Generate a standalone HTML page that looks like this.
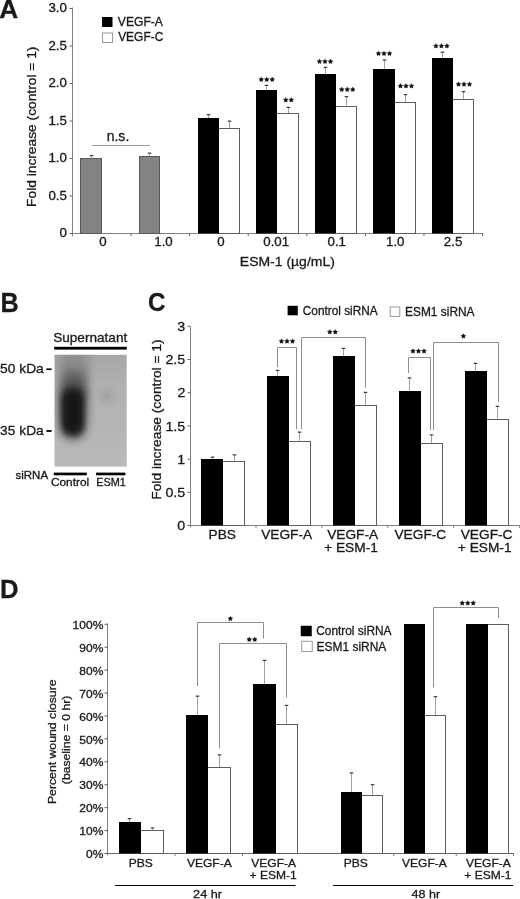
<!DOCTYPE html>
<html><head><meta charset="utf-8"><style>
html,body{margin:0;padding:0;background:#fff;overflow:hidden;}
svg{display:block;will-change:transform;}
text{font-family:"Liberation Sans", sans-serif;fill:#1a1a1a;stroke:#1a1a1a;stroke-width:0.3px;}
</style></head><body>
<svg width="520" height="899" viewBox="0 0 520 899">
<text transform="translate(-0.66,17.60) scale(1.025,1)" font-size="25.58" font-weight="bold">A</text>
<line x1="72.5" y1="7.5" x2="72.5" y2="235.5" stroke="#808080" stroke-width="1"/>
<line x1="72.5" y1="233.5" x2="483.4" y2="233.5" stroke="#808080" stroke-width="1"/>
<line x1="69.5" y1="233.5" x2="72.5" y2="233.5" stroke="#666" stroke-width="1"/>
<text transform="translate(59.53,237.34) scale(1.120,1)" font-size="11.86">0</text>
<line x1="69.5" y1="196.0" x2="72.5" y2="196.0" stroke="#666" stroke-width="1"/>
<text transform="translate(48.48,199.84) scale(1.120,1)" font-size="11.86">0.5</text>
<line x1="69.5" y1="158.5" x2="72.5" y2="158.5" stroke="#666" stroke-width="1"/>
<text transform="translate(48.44,162.34) scale(1.120,1)" font-size="11.86">1.0</text>
<line x1="69.5" y1="121.0" x2="72.5" y2="121.0" stroke="#666" stroke-width="1"/>
<text transform="translate(48.48,124.84) scale(1.120,1)" font-size="11.86">1.5</text>
<line x1="69.5" y1="83.5" x2="72.5" y2="83.5" stroke="#666" stroke-width="1"/>
<text transform="translate(48.44,87.34) scale(1.120,1)" font-size="11.86">2.0</text>
<line x1="69.5" y1="46.0" x2="72.5" y2="46.0" stroke="#666" stroke-width="1"/>
<text transform="translate(48.48,49.84) scale(1.120,1)" font-size="11.86">2.5</text>
<line x1="69.5" y1="8.5" x2="72.5" y2="8.5" stroke="#666" stroke-width="1"/>
<text transform="translate(48.44,12.34) scale(1.120,1)" font-size="11.86">3.0</text>
<line x1="131.05" y1="233.5" x2="131.05" y2="236.0" stroke="#666" stroke-width="1"/>
<line x1="189.63" y1="233.5" x2="189.63" y2="236.0" stroke="#666" stroke-width="1"/>
<line x1="248.21" y1="233.5" x2="248.21" y2="236.0" stroke="#666" stroke-width="1"/>
<line x1="306.79" y1="233.5" x2="306.79" y2="236.0" stroke="#666" stroke-width="1"/>
<line x1="365.37" y1="233.5" x2="365.37" y2="236.0" stroke="#666" stroke-width="1"/>
<line x1="423.95" y1="233.5" x2="423.95" y2="236.0" stroke="#666" stroke-width="1"/>
<line x1="482.53000000000003" y1="233.5" x2="482.53000000000003" y2="236.0" stroke="#666" stroke-width="1"/>
<line x1="72.45" y1="233.5" x2="72.45" y2="236.5" stroke="#808080" stroke-width="1"/>
<text transform="translate(99.30,246.34) scale(1.070,1)" font-size="12.43">0</text>
<text transform="translate(154.26,246.34) scale(1.070,1)" font-size="12.43">1.0</text>
<text transform="translate(217.20,246.34) scale(1.070,1)" font-size="12.43">0</text>
<text transform="translate(263.28,246.34) scale(1.070,1)" font-size="12.43">0.01</text>
<text transform="translate(327.53,246.34) scale(1.070,1)" font-size="12.43">0.1</text>
<text transform="translate(386.01,246.34) scale(1.070,1)" font-size="12.43">1.0</text>
<text transform="translate(443.81,246.34) scale(1.070,1)" font-size="12.43">2.5</text>
<text transform="translate(239.85,265.72) scale(1.087,1)" font-size="12.86">ESM-1 (µg/mL)</text>
<rect x="80.5" y="158.5" width="21.0" height="75.0" fill="#838383" stroke="#585858" stroke-width="1"/>
<line x1="91.5" y1="155.65" x2="91.5" y2="158.25" stroke="#a0a0a0" stroke-width="1"/>
<line x1="89.7" y1="155.65" x2="93.3" y2="155.65" stroke="#3a3a3a" stroke-width="1.2"/>
<rect x="139.5" y="156.5" width="20.0" height="77.0" fill="#838383" stroke="#585858" stroke-width="1"/>
<line x1="149.5" y1="153.15" x2="149.5" y2="155.75" stroke="#a0a0a0" stroke-width="1"/>
<line x1="147.7" y1="153.15" x2="151.3" y2="153.15" stroke="#3a3a3a" stroke-width="1.2"/>
<line x1="208.5" y1="114.65" x2="208.5" y2="118.25" stroke="#a0a0a0" stroke-width="1"/>
<line x1="206.7" y1="114.65" x2="210.3" y2="114.65" stroke="#3a3a3a" stroke-width="1.2"/>
<line x1="229.5" y1="121.15" x2="229.5" y2="128.25" stroke="#a0a0a0" stroke-width="1"/>
<line x1="227.7" y1="121.15" x2="231.3" y2="121.15" stroke="#3a3a3a" stroke-width="1.2"/>
<rect x="218.5" y="128.5" width="21.0" height="105.0" fill="#fff" stroke="#5e5e5e" stroke-width="1"/>
<rect x="198.0" y="118.0" width="21.0" height="115.5" fill="#000"/>
<line x1="266.5" y1="85.4" x2="266.5" y2="90" stroke="#a0a0a0" stroke-width="1"/>
<line x1="264.7" y1="85.4" x2="268.3" y2="85.4" stroke="#3a3a3a" stroke-width="1.2"/>
<line x1="288.5" y1="107.4" x2="288.5" y2="113.25" stroke="#a0a0a0" stroke-width="1"/>
<line x1="286.7" y1="107.4" x2="290.3" y2="107.4" stroke="#3a3a3a" stroke-width="1.2"/>
<rect x="276.5" y="113.5" width="22.0" height="120.0" fill="#fff" stroke="#5e5e5e" stroke-width="1"/>
<rect x="256.0" y="90.0" width="21.0" height="143.5" fill="#000"/>
<line x1="325.5" y1="67.4" x2="325.5" y2="73.75" stroke="#a0a0a0" stroke-width="1"/>
<line x1="323.7" y1="67.4" x2="327.3" y2="67.4" stroke="#3a3a3a" stroke-width="1.2"/>
<line x1="346.5" y1="96.65" x2="346.5" y2="105.5" stroke="#a0a0a0" stroke-width="1"/>
<line x1="344.7" y1="96.65" x2="348.3" y2="96.65" stroke="#3a3a3a" stroke-width="1.2"/>
<rect x="335.5" y="106.5" width="21.0" height="127.0" fill="#fff" stroke="#5e5e5e" stroke-width="1"/>
<rect x="315.0" y="74.0" width="21.0" height="159.5" fill="#000"/>
<line x1="384.5" y1="59.9" x2="384.5" y2="69" stroke="#a0a0a0" stroke-width="1"/>
<line x1="382.7" y1="59.9" x2="386.3" y2="59.9" stroke="#3a3a3a" stroke-width="1.2"/>
<line x1="405.5" y1="94.65" x2="405.5" y2="102.5" stroke="#a0a0a0" stroke-width="1"/>
<line x1="403.7" y1="94.65" x2="407.3" y2="94.65" stroke="#3a3a3a" stroke-width="1.2"/>
<rect x="394.5" y="102.5" width="21.0" height="131.0" fill="#fff" stroke="#5e5e5e" stroke-width="1"/>
<rect x="373.0" y="69.0" width="22.0" height="164.5" fill="#000"/>
<line x1="442.5" y1="52.15" x2="442.5" y2="58" stroke="#a0a0a0" stroke-width="1"/>
<line x1="440.7" y1="52.15" x2="444.3" y2="52.15" stroke="#3a3a3a" stroke-width="1.2"/>
<line x1="463.5" y1="91.65" x2="463.5" y2="99.25" stroke="#a0a0a0" stroke-width="1"/>
<line x1="461.7" y1="91.65" x2="465.3" y2="91.65" stroke="#3a3a3a" stroke-width="1.2"/>
<rect x="452.5" y="99.5" width="21.0" height="134.0" fill="#fff" stroke="#5e5e5e" stroke-width="1"/>
<rect x="432.0" y="58.0" width="21.0" height="175.5" fill="#000"/>
<line x1="92" y1="145.5" x2="150" y2="145.5" stroke="#9a9a9a" stroke-width="1"/>
<text transform="translate(106.67,141.35) scale(0.926,1)" font-size="15.15">n.s.</text>
<polygon points="261.25,77.00 262.06,78.39 263.63,78.73 262.56,79.92 262.72,81.52 261.25,80.88 259.78,81.52 259.94,79.92 258.87,78.73 260.44,78.39" fill="#111" stroke="#111" stroke-width="0.35" stroke-linejoin="round"/>
<polygon points="266.75,77.00 267.56,78.39 269.13,78.73 268.06,79.92 268.22,81.52 266.75,80.88 265.28,81.52 265.44,79.92 264.37,78.73 265.94,78.39" fill="#111" stroke="#111" stroke-width="0.35" stroke-linejoin="round"/>
<polygon points="272.25,77.00 273.06,78.39 274.63,78.73 273.56,79.92 273.72,81.52 272.25,80.88 270.78,81.52 270.94,79.92 269.87,78.73 271.44,78.39" fill="#111" stroke="#111" stroke-width="0.35" stroke-linejoin="round"/>
<polygon points="285.75,97.50 286.56,98.89 288.13,99.23 287.06,100.42 287.22,102.02 285.75,101.38 284.28,102.02 284.44,100.42 283.37,99.23 284.94,98.89" fill="#111" stroke="#111" stroke-width="0.35" stroke-linejoin="round"/>
<polygon points="291.25,97.50 292.06,98.89 293.63,99.23 292.56,100.42 292.72,102.02 291.25,101.38 289.78,102.02 289.94,100.42 288.87,99.23 290.44,98.89" fill="#111" stroke="#111" stroke-width="0.35" stroke-linejoin="round"/>
<polygon points="319.50,59.00 320.31,60.39 321.88,60.73 320.81,61.92 320.97,63.52 319.50,62.88 318.03,63.52 318.19,61.92 317.12,60.73 318.69,60.39" fill="#111" stroke="#111" stroke-width="0.35" stroke-linejoin="round"/>
<polygon points="325.00,59.00 325.81,60.39 327.38,60.73 326.31,61.92 326.47,63.52 325.00,62.88 323.53,63.52 323.69,61.92 322.62,60.73 324.19,60.39" fill="#111" stroke="#111" stroke-width="0.35" stroke-linejoin="round"/>
<polygon points="330.50,59.00 331.31,60.39 332.88,60.73 331.81,61.92 331.97,63.52 330.50,62.88 329.03,63.52 329.19,61.92 328.12,60.73 329.69,60.39" fill="#111" stroke="#111" stroke-width="0.35" stroke-linejoin="round"/>
<polygon points="341.75,87.00 342.56,88.39 344.13,88.73 343.06,89.92 343.22,91.52 341.75,90.88 340.28,91.52 340.44,89.92 339.37,88.73 340.94,88.39" fill="#111" stroke="#111" stroke-width="0.35" stroke-linejoin="round"/>
<polygon points="347.25,87.00 348.06,88.39 349.63,88.73 348.56,89.92 348.72,91.52 347.25,90.88 345.78,91.52 345.94,89.92 344.87,88.73 346.44,88.39" fill="#111" stroke="#111" stroke-width="0.35" stroke-linejoin="round"/>
<polygon points="352.75,87.00 353.56,88.39 355.13,88.73 354.06,89.92 354.22,91.52 352.75,90.88 351.28,91.52 351.44,89.92 350.37,88.73 351.94,88.39" fill="#111" stroke="#111" stroke-width="0.35" stroke-linejoin="round"/>
<polygon points="378.50,51.00 379.31,52.39 380.88,52.73 379.81,53.92 379.97,55.52 378.50,54.88 377.03,55.52 377.19,53.92 376.12,52.73 377.69,52.39" fill="#111" stroke="#111" stroke-width="0.35" stroke-linejoin="round"/>
<polygon points="384.00,51.00 384.81,52.39 386.38,52.73 385.31,53.92 385.47,55.52 384.00,54.88 382.53,55.52 382.69,53.92 381.62,52.73 383.19,52.39" fill="#111" stroke="#111" stroke-width="0.35" stroke-linejoin="round"/>
<polygon points="389.50,51.00 390.31,52.39 391.88,52.73 390.81,53.92 390.97,55.52 389.50,54.88 388.03,55.52 388.19,53.92 387.12,52.73 388.69,52.39" fill="#111" stroke="#111" stroke-width="0.35" stroke-linejoin="round"/>
<polygon points="400.50,83.50 401.31,84.89 402.88,85.23 401.81,86.42 401.97,88.02 400.50,87.38 399.03,88.02 399.19,86.42 398.12,85.23 399.69,84.89" fill="#111" stroke="#111" stroke-width="0.35" stroke-linejoin="round"/>
<polygon points="406.00,83.50 406.81,84.89 408.38,85.23 407.31,86.42 407.47,88.02 406.00,87.38 404.53,88.02 404.69,86.42 403.62,85.23 405.19,84.89" fill="#111" stroke="#111" stroke-width="0.35" stroke-linejoin="round"/>
<polygon points="411.50,83.50 412.31,84.89 413.88,85.23 412.81,86.42 412.97,88.02 411.50,87.38 410.03,88.02 410.19,86.42 409.12,85.23 410.69,84.89" fill="#111" stroke="#111" stroke-width="0.35" stroke-linejoin="round"/>
<polygon points="435.90,43.50 436.71,44.89 438.28,45.23 437.21,46.42 437.37,48.02 435.90,47.38 434.43,48.02 434.59,46.42 433.52,45.23 435.09,44.89" fill="#111" stroke="#111" stroke-width="0.35" stroke-linejoin="round"/>
<polygon points="441.40,43.50 442.21,44.89 443.78,45.23 442.71,46.42 442.87,48.02 441.40,47.38 439.93,48.02 440.09,46.42 439.02,45.23 440.59,44.89" fill="#111" stroke="#111" stroke-width="0.35" stroke-linejoin="round"/>
<polygon points="446.90,43.50 447.71,44.89 449.28,45.23 448.21,46.42 448.37,48.02 446.90,47.38 445.43,48.02 445.59,46.42 444.52,45.23 446.09,44.89" fill="#111" stroke="#111" stroke-width="0.35" stroke-linejoin="round"/>
<polygon points="458.50,81.80 459.31,83.19 460.88,83.53 459.81,84.72 459.97,86.32 458.50,85.67 457.03,86.32 457.19,84.72 456.12,83.53 457.69,83.19" fill="#111" stroke="#111" stroke-width="0.35" stroke-linejoin="round"/>
<polygon points="464.00,81.80 464.81,83.19 466.38,83.53 465.31,84.72 465.47,86.32 464.00,85.67 462.53,86.32 462.69,84.72 461.62,83.53 463.19,83.19" fill="#111" stroke="#111" stroke-width="0.35" stroke-linejoin="round"/>
<polygon points="469.50,81.80 470.31,83.19 471.88,83.53 470.81,84.72 470.97,86.32 469.50,85.67 468.03,86.32 468.19,84.72 467.12,83.53 468.69,83.19" fill="#111" stroke="#111" stroke-width="0.35" stroke-linejoin="round"/>
<rect x="102" y="17" width="10.5" height="10" fill="#000"/>
<rect x="102.5" y="33" width="10" height="9.5" fill="#fff" stroke="#999" stroke-width="1"/>
<text transform="translate(117.84,26.38) scale(1.021,1)" font-size="11.86">VEGF-A</text>
<text transform="translate(118.14,41.48) scale(0.974,1)" font-size="12.29">VEGF-C</text>
<text transform="translate(35.98,206.93) rotate(-90) scale(1.089,1)" font-size="12.66">Fold increase (control = 1)</text>
<text transform="translate(0.51,311.70) scale(0.939,1)" font-size="26.89" font-weight="bold">B</text>
<text transform="translate(53.17,342.26) scale(1.072,1)" font-size="12.69">Supernatant</text>
<rect x="54.2" y="346.8" width="72.6" height="2.8" fill="#000"/>
<defs>
<filter id="b3" x="-50%" y="-50%" width="200%" height="200%"><feGaussianBlur stdDeviation="3"/></filter>
<filter id="b5" x="-50%" y="-50%" width="200%" height="200%"><feGaussianBlur stdDeviation="5"/></filter>
<filter id="b2" x="-50%" y="-50%" width="200%" height="200%"><feGaussianBlur stdDeviation="2"/></filter>
<linearGradient id="blotbg" x1="0" y1="0" x2="0" y2="1">
<stop offset="0" stop-color="#a6a6a6"/>
<stop offset="0.25" stop-color="#b0b0b0"/>
<stop offset="1" stop-color="#b9b9b9"/>
</linearGradient>
<linearGradient id="lane" x1="0" y1="0" x2="0" y2="1">
<stop offset="0" stop-color="#8c8c8c"/>
<stop offset="0.3" stop-color="#6a6a6a"/>
<stop offset="0.6" stop-color="#777"/>
<stop offset="1" stop-color="#a8a8a8"/>
</linearGradient>
<clipPath id="blotclip"><rect x="54.5" y="354.8" width="72.2" height="111.8"/></clipPath>
</defs>
<rect x="54.5" y="354.8" width="72.2" height="111.8" fill="url(#blotbg)"/>
<g clip-path="url(#blotclip)">
<rect x="60" y="350" width="28" height="70" fill="url(#lane)" opacity="0.6" filter="url(#b5)"/>
<rect x="62" y="372" width="23" height="24" rx="6" fill="#555" opacity="0.8" filter="url(#b5)"/>
<rect x="61" y="386" width="24" height="52" rx="10" fill="#222" filter="url(#b5)"/>
<rect x="63" y="392" width="19" height="40" rx="8" fill="#181818" filter="url(#b3)"/>
<ellipse cx="107" cy="396" rx="7" ry="6" fill="#9a9a9a" opacity="0.7" filter="url(#b3)"/>
</g>
<text transform="translate(0.05,372.77) scale(1.103,1)" font-size="12.52">50 kDa</text>
<rect x="46.4" y="368.4" width="5.2" height="1.7" fill="#000"/>
<text transform="translate(0.08,434.67) scale(1.079,1)" font-size="12.79">35 kDa</text>
<rect x="46.4" y="430.1" width="5.2" height="1.8" fill="#000"/>
<text transform="translate(15.48,479.20) scale(1.144,1)" font-size="10.07">siRNA</text>
<rect x="53.8" y="472.6" width="33" height="2.7" fill="#000"/>
<rect x="96.1" y="472.6" width="29.3" height="2.7" fill="#000"/>
<text transform="translate(50.89,486.09) scale(1.123,1)" font-size="10.61">Control</text>
<text transform="translate(96.31,486.10) scale(1.041,1)" font-size="10.45">ESM1</text>
<text transform="translate(148.11,311.34) scale(0.920,1)" font-size="26.27" font-weight="bold">C</text>
<line x1="190.5" y1="326.5" x2="190.5" y2="527.5" stroke="#808080" stroke-width="1"/>
<line x1="190.5" y1="525.5" x2="520" y2="525.5" stroke="#808080" stroke-width="1"/>
<line x1="187.5" y1="525.5" x2="190.5" y2="525.5" stroke="#666" stroke-width="1"/>
<text transform="translate(177.23,530.18) scale(1.085,1)" font-size="13.14">0</text>
<line x1="187.5" y1="492.3" x2="190.5" y2="492.3" stroke="#666" stroke-width="1"/>
<text transform="translate(165.39,496.98) scale(1.085,1)" font-size="13.14">0.5</text>
<line x1="187.5" y1="459.1" x2="190.5" y2="459.1" stroke="#666" stroke-width="1"/>
<text transform="translate(177.37,463.78) scale(1.085,1)" font-size="13.14">1</text>
<line x1="187.5" y1="425.9" x2="190.5" y2="425.9" stroke="#666" stroke-width="1"/>
<text transform="translate(165.39,430.58) scale(1.085,1)" font-size="13.14">1.5</text>
<line x1="187.5" y1="392.7" x2="190.5" y2="392.7" stroke="#666" stroke-width="1"/>
<text transform="translate(177.39,397.38) scale(1.085,1)" font-size="13.14">2</text>
<line x1="187.5" y1="359.5" x2="190.5" y2="359.5" stroke="#666" stroke-width="1"/>
<text transform="translate(165.39,364.18) scale(1.085,1)" font-size="13.14">2.5</text>
<line x1="187.5" y1="326.29999999999995" x2="190.5" y2="326.29999999999995" stroke="#666" stroke-width="1"/>
<text transform="translate(177.30,330.98) scale(1.085,1)" font-size="13.14">3</text>
<line x1="256.0" y1="525.5" x2="256.0" y2="528.0" stroke="#808080" stroke-width="1"/>
<line x1="321.9" y1="525.5" x2="321.9" y2="528.0" stroke="#808080" stroke-width="1"/>
<line x1="387.8" y1="525.5" x2="387.8" y2="528.0" stroke="#808080" stroke-width="1"/>
<line x1="453.70000000000005" y1="525.5" x2="453.70000000000005" y2="528.0" stroke="#808080" stroke-width="1"/>
<line x1="519.6" y1="525.5" x2="519.6" y2="528.0" stroke="#808080" stroke-width="1"/>
<line x1="212.5" y1="457.15" x2="212.5" y2="459.25" stroke="#a0a0a0" stroke-width="1"/>
<line x1="210.7" y1="457.15" x2="214.3" y2="457.15" stroke="#3a3a3a" stroke-width="1.2"/>
<line x1="234.5" y1="454.9" x2="234.5" y2="461.25" stroke="#a0a0a0" stroke-width="1"/>
<line x1="232.7" y1="454.9" x2="236.3" y2="454.9" stroke="#3a3a3a" stroke-width="1.2"/>
<rect x="222.5" y="461.5" width="22.0" height="64.0" fill="#fff" stroke="#5e5e5e" stroke-width="1"/>
<rect x="201.0" y="459.0" width="22.0" height="66.5" fill="#000"/>
<line x1="277.5" y1="370.4" x2="277.5" y2="376.25" stroke="#a0a0a0" stroke-width="1"/>
<line x1="275.7" y1="370.4" x2="279.3" y2="370.4" stroke="#3a3a3a" stroke-width="1.2"/>
<line x1="299.5" y1="432.15" x2="299.5" y2="440.75" stroke="#a0a0a0" stroke-width="1"/>
<line x1="297.7" y1="432.15" x2="301.3" y2="432.15" stroke="#3a3a3a" stroke-width="1.2"/>
<rect x="288.5" y="441.5" width="22.0" height="84.0" fill="#fff" stroke="#5e5e5e" stroke-width="1"/>
<rect x="267.0" y="376.0" width="22.0" height="149.5" fill="#000"/>
<line x1="343.5" y1="348.4" x2="343.5" y2="355.75" stroke="#a0a0a0" stroke-width="1"/>
<line x1="341.7" y1="348.4" x2="345.3" y2="348.4" stroke="#3a3a3a" stroke-width="1.2"/>
<line x1="365.5" y1="392.4" x2="365.5" y2="405" stroke="#a0a0a0" stroke-width="1"/>
<line x1="363.7" y1="392.4" x2="367.3" y2="392.4" stroke="#3a3a3a" stroke-width="1.2"/>
<rect x="354.5" y="405.5" width="22.0" height="120.0" fill="#fff" stroke="#5e5e5e" stroke-width="1"/>
<rect x="333.0" y="356.0" width="22.0" height="169.5" fill="#000"/>
<line x1="409.5" y1="377.9" x2="409.5" y2="390.75" stroke="#a0a0a0" stroke-width="1"/>
<line x1="407.7" y1="377.9" x2="411.3" y2="377.9" stroke="#3a3a3a" stroke-width="1.2"/>
<line x1="431.5" y1="434.9" x2="431.5" y2="443" stroke="#a0a0a0" stroke-width="1"/>
<line x1="429.7" y1="434.9" x2="433.3" y2="434.9" stroke="#3a3a3a" stroke-width="1.2"/>
<rect x="420.5" y="443.5" width="22.0" height="82.0" fill="#fff" stroke="#5e5e5e" stroke-width="1"/>
<rect x="399.0" y="391.0" width="22.0" height="134.5" fill="#000"/>
<line x1="475.5" y1="363.4" x2="475.5" y2="371.25" stroke="#a0a0a0" stroke-width="1"/>
<line x1="473.7" y1="363.4" x2="477.3" y2="363.4" stroke="#3a3a3a" stroke-width="1.2"/>
<line x1="497.5" y1="406.4" x2="497.5" y2="418.6" stroke="#a0a0a0" stroke-width="1"/>
<line x1="495.7" y1="406.4" x2="499.3" y2="406.4" stroke="#3a3a3a" stroke-width="1.2"/>
<rect x="486.5" y="419.5" width="22.0" height="106.0" fill="#fff" stroke="#5e5e5e" stroke-width="1"/>
<rect x="465.0" y="371.0" width="22.0" height="154.5" fill="#000"/>
<text transform="translate(208.54,539.06) scale(1.073,1)" font-size="12.78">PBS</text>
<text transform="translate(261.16,539.06) scale(1.073,1)" font-size="12.78">VEGF-A</text>
<text transform="translate(327.16,539.06) scale(1.073,1)" font-size="12.78">VEGF-A</text>
<text transform="translate(394.43,539.06) scale(1.073,1)" font-size="12.78">VEGF-C</text>
<text transform="translate(460.73,539.06) scale(1.073,1)" font-size="12.78">VEGF-C</text>
<text transform="translate(324.13,551.51) scale(1.073,1)" font-size="12.78">+ ESM-1</text>
<text transform="translate(457.83,551.51) scale(1.073,1)" font-size="12.78">+ ESM-1</text>
<polyline points="277.5,367 277.5,347.5 296.5,347.5 296.5,429" fill="none" stroke="#8e8e8e" stroke-width="1"/>
<polyline points="301.5,429 301.5,337.5 365.5,337.5 365.5,388" fill="none" stroke="#8e8e8e" stroke-width="1"/>
<polyline points="408.5,373 408.5,357.5 430.5,357.5 430.5,430" fill="none" stroke="#8e8e8e" stroke-width="1"/>
<polyline points="433.5,430 433.5,342.5 498.5,342.5 498.5,402" fill="none" stroke="#8e8e8e" stroke-width="1"/>
<polygon points="281.50,338.80 282.31,340.19 283.88,340.53 282.81,341.72 282.97,343.32 281.50,342.68 280.03,343.32 280.19,341.72 279.12,340.53 280.69,340.19" fill="#111" stroke="#111" stroke-width="0.35" stroke-linejoin="round"/>
<polygon points="287.00,338.80 287.81,340.19 289.38,340.53 288.31,341.72 288.47,343.32 287.00,342.68 285.53,343.32 285.69,341.72 284.62,340.53 286.19,340.19" fill="#111" stroke="#111" stroke-width="0.35" stroke-linejoin="round"/>
<polygon points="292.50,338.80 293.31,340.19 294.88,340.53 293.81,341.72 293.97,343.32 292.50,342.68 291.03,343.32 291.19,341.72 290.12,340.53 291.69,340.19" fill="#111" stroke="#111" stroke-width="0.35" stroke-linejoin="round"/>
<polygon points="329.75,329.50 330.56,330.89 332.13,331.23 331.06,332.42 331.22,334.02 329.75,333.38 328.28,334.02 328.44,332.42 327.37,331.23 328.94,330.89" fill="#111" stroke="#111" stroke-width="0.35" stroke-linejoin="round"/>
<polygon points="335.25,329.50 336.06,330.89 337.63,331.23 336.56,332.42 336.72,334.02 335.25,333.38 333.78,334.02 333.94,332.42 332.87,331.23 334.44,330.89" fill="#111" stroke="#111" stroke-width="0.35" stroke-linejoin="round"/>
<polygon points="413.00,348.70 413.81,350.09 415.38,350.43 414.31,351.62 414.47,353.22 413.00,352.57 411.53,353.22 411.69,351.62 410.62,350.43 412.19,350.09" fill="#111" stroke="#111" stroke-width="0.35" stroke-linejoin="round"/>
<polygon points="418.50,348.70 419.31,350.09 420.88,350.43 419.81,351.62 419.97,353.22 418.50,352.57 417.03,353.22 417.19,351.62 416.12,350.43 417.69,350.09" fill="#111" stroke="#111" stroke-width="0.35" stroke-linejoin="round"/>
<polygon points="424.00,348.70 424.81,350.09 426.38,350.43 425.31,351.62 425.47,353.22 424.00,352.57 422.53,353.22 422.69,351.62 421.62,350.43 423.19,350.09" fill="#111" stroke="#111" stroke-width="0.35" stroke-linejoin="round"/>
<polygon points="463.40,333.70 464.21,335.09 465.78,335.43 464.71,336.62 464.87,338.22 463.40,337.57 461.93,338.22 462.09,336.62 461.02,335.43 462.59,335.09" fill="#111" stroke="#111" stroke-width="0.35" stroke-linejoin="round"/>
<rect x="287.6" y="305.8" width="10.2" height="9.5" fill="#000"/>
<rect x="390.2" y="307" width="9.6" height="9.4" fill="#fff" stroke="#999" stroke-width="1"/>
<text transform="translate(302.80,314.98) scale(0.988,1)" font-size="11.97">Control siRNA</text>
<text transform="translate(405.02,316.38) scale(0.996,1)" font-size="11.97">ESM1 siRNA</text>
<text transform="translate(160.91,499.73) rotate(-90) scale(1.062,1)" font-size="12.98">Fold increase (control = 1)</text>
<text transform="translate(-0.12,597.80) scale(0.968,1)" font-size="26.45" font-weight="bold">D</text>
<line x1="107.5" y1="623.5" x2="107.5" y2="855.5" stroke="#808080" stroke-width="1"/>
<line x1="107.5" y1="853.5" x2="514" y2="853.5" stroke="#666" stroke-width="1"/>
<line x1="104.5" y1="853.5" x2="107.5" y2="853.5" stroke="#5a5a5a" stroke-width="1"/>
<text transform="translate(85.99,858.10) scale(1.109,1)" font-size="10.88">0%</text>
<line x1="104.5" y1="830.58" x2="107.5" y2="830.58" stroke="#5a5a5a" stroke-width="1"/>
<text transform="translate(79.29,835.18) scale(1.109,1)" font-size="10.88">10%</text>
<line x1="104.5" y1="807.66" x2="107.5" y2="807.66" stroke="#5a5a5a" stroke-width="1"/>
<text transform="translate(79.29,812.26) scale(1.109,1)" font-size="10.88">20%</text>
<line x1="104.5" y1="784.74" x2="107.5" y2="784.74" stroke="#5a5a5a" stroke-width="1"/>
<text transform="translate(79.29,789.34) scale(1.109,1)" font-size="10.88">30%</text>
<line x1="104.5" y1="761.8199999999999" x2="107.5" y2="761.8199999999999" stroke="#5a5a5a" stroke-width="1"/>
<text transform="translate(79.29,766.42) scale(1.109,1)" font-size="10.88">40%</text>
<line x1="104.5" y1="738.9" x2="107.5" y2="738.9" stroke="#5a5a5a" stroke-width="1"/>
<text transform="translate(79.29,743.50) scale(1.109,1)" font-size="10.88">50%</text>
<line x1="104.5" y1="715.98" x2="107.5" y2="715.98" stroke="#5a5a5a" stroke-width="1"/>
<text transform="translate(79.29,720.58) scale(1.109,1)" font-size="10.88">60%</text>
<line x1="104.5" y1="693.06" x2="107.5" y2="693.06" stroke="#5a5a5a" stroke-width="1"/>
<text transform="translate(79.29,697.66) scale(1.109,1)" font-size="10.88">70%</text>
<line x1="104.5" y1="670.14" x2="107.5" y2="670.14" stroke="#5a5a5a" stroke-width="1"/>
<text transform="translate(79.29,674.74) scale(1.109,1)" font-size="10.88">80%</text>
<line x1="104.5" y1="647.22" x2="107.5" y2="647.22" stroke="#5a5a5a" stroke-width="1"/>
<text transform="translate(79.29,651.82) scale(1.109,1)" font-size="10.88">90%</text>
<line x1="104.5" y1="624.3" x2="107.5" y2="624.3" stroke="#5a5a5a" stroke-width="1"/>
<text transform="translate(72.58,628.90) scale(1.109,1)" font-size="10.88">100%</text>
<line x1="175" y1="853.5" x2="175" y2="856.0" stroke="#808080" stroke-width="1"/>
<line x1="242.5" y1="853.5" x2="242.5" y2="856.0" stroke="#808080" stroke-width="1"/>
<line x1="393.75" y1="853.5" x2="393.75" y2="856.0" stroke="#808080" stroke-width="1"/>
<line x1="456.25" y1="853.5" x2="456.25" y2="856.0" stroke="#808080" stroke-width="1"/>
<line x1="513.5" y1="853.5" x2="513.5" y2="856.0" stroke="#808080" stroke-width="1"/>
<line x1="129.5" y1="818.65" x2="129.5" y2="822.5" stroke="#a0a0a0" stroke-width="1"/>
<line x1="127.7" y1="818.65" x2="131.3" y2="818.65" stroke="#3a3a3a" stroke-width="1.2"/>
<line x1="152.5" y1="827.9" x2="152.5" y2="830.5" stroke="#a0a0a0" stroke-width="1"/>
<line x1="150.7" y1="827.9" x2="154.3" y2="827.9" stroke="#3a3a3a" stroke-width="1.2"/>
<rect x="140.5" y="830.5" width="23.0" height="23.0" fill="#fff" stroke="#5e5e5e" stroke-width="1"/>
<rect x="119.0" y="822.0" width="22.0" height="31.5" fill="#000"/>
<line x1="197.5" y1="696.15" x2="197.5" y2="715.25" stroke="#a0a0a0" stroke-width="1"/>
<line x1="195.7" y1="696.15" x2="199.3" y2="696.15" stroke="#3a3a3a" stroke-width="1.2"/>
<line x1="219.5" y1="754.9" x2="219.5" y2="767" stroke="#a0a0a0" stroke-width="1"/>
<line x1="217.7" y1="754.9" x2="221.3" y2="754.9" stroke="#3a3a3a" stroke-width="1.2"/>
<rect x="207.5" y="767.5" width="23.0" height="86.0" fill="#fff" stroke="#5e5e5e" stroke-width="1"/>
<rect x="186.0" y="715.0" width="22.0" height="138.5" fill="#000"/>
<line x1="264.5" y1="660.4" x2="264.5" y2="683.75" stroke="#a0a0a0" stroke-width="1"/>
<line x1="262.7" y1="660.4" x2="266.3" y2="660.4" stroke="#3a3a3a" stroke-width="1.2"/>
<line x1="286.5" y1="705.4" x2="286.5" y2="723.75" stroke="#a0a0a0" stroke-width="1"/>
<line x1="284.7" y1="705.4" x2="288.3" y2="705.4" stroke="#3a3a3a" stroke-width="1.2"/>
<rect x="275.5" y="724.5" width="22.0" height="129.0" fill="#fff" stroke="#5e5e5e" stroke-width="1"/>
<rect x="253.0" y="684.0" width="23.0" height="169.5" fill="#000"/>
<line x1="351.5" y1="772.9" x2="351.5" y2="791.75" stroke="#a0a0a0" stroke-width="1"/>
<line x1="349.7" y1="772.9" x2="353.3" y2="772.9" stroke="#3a3a3a" stroke-width="1.2"/>
<line x1="372.5" y1="784.65" x2="372.5" y2="795.25" stroke="#a0a0a0" stroke-width="1"/>
<line x1="370.7" y1="784.65" x2="374.3" y2="784.65" stroke="#3a3a3a" stroke-width="1.2"/>
<rect x="361.5" y="795.5" width="21.0" height="58.0" fill="#fff" stroke="#5e5e5e" stroke-width="1"/>
<rect x="341.0" y="792.0" width="21.0" height="61.5" fill="#000"/>
<line x1="435.5" y1="696.65" x2="435.5" y2="715" stroke="#a0a0a0" stroke-width="1"/>
<line x1="433.7" y1="696.65" x2="437.3" y2="696.65" stroke="#3a3a3a" stroke-width="1.2"/>
<rect x="424.5" y="715.5" width="21.0" height="138.0" fill="#fff" stroke="#5e5e5e" stroke-width="1"/>
<rect x="404.0" y="624.0" width="21.0" height="229.5" fill="#000"/>
<rect x="487.5" y="624.5" width="21.0" height="229.0" fill="#fff" stroke="#5e5e5e" stroke-width="1"/>
<rect x="466.0" y="624.0" width="22.0" height="229.5" fill="#000"/>
<text transform="translate(128.83,866.89) scale(1.027,1)" font-size="11.72">PBS</text>
<text transform="translate(186.96,866.89) scale(1.027,1)" font-size="11.72">VEGF-A</text>
<text transform="translate(251.31,866.89) scale(1.027,1)" font-size="11.72">VEGF-A</text>
<text transform="translate(343.73,866.89) scale(1.027,1)" font-size="11.72">PBS</text>
<text transform="translate(402.06,866.89) scale(1.027,1)" font-size="11.72">VEGF-A</text>
<text transform="translate(466.06,866.89) scale(1.027,1)" font-size="11.72">VEGF-A</text>
<text transform="translate(249.53,879.34) scale(1.027,1)" font-size="11.72">+ ESM-1</text>
<text transform="translate(464.28,879.34) scale(1.027,1)" font-size="11.72">+ ESM-1</text>
<line x1="115" y1="885.5" x2="295.5" y2="885.5" stroke="#000" stroke-width="1"/>
<line x1="333" y1="885.5" x2="513" y2="885.5" stroke="#000" stroke-width="1"/>
<text transform="translate(193.11,898.40) scale(1.085,1)" font-size="11.72">24 hr</text>
<text transform="translate(411.61,898.28) scale(1.085,1)" font-size="11.56">48 hr</text>
<polyline points="197.5,686 197.5,622.5 263.5,622.5 263.5,638.5" fill="none" stroke="#8e8e8e" stroke-width="1"/>
<polyline points="219.5,748.5 219.5,643.5 286.5,643.5 286.5,697.5" fill="none" stroke="#8e8e8e" stroke-width="1"/>
<polyline points="433.5,687.5 433.5,607.5 498.5,607.5 498.5,618" fill="none" stroke="#8e8e8e" stroke-width="1"/>
<polygon points="230.40,616.20 231.21,617.59 232.78,617.93 231.71,619.12 231.87,620.72 230.40,620.08 228.93,620.72 229.09,619.12 228.02,617.93 229.59,617.59" fill="#111" stroke="#111" stroke-width="0.35" stroke-linejoin="round"/>
<polygon points="249.25,637.00 250.06,638.39 251.63,638.73 250.56,639.92 250.72,641.52 249.25,640.88 247.78,641.52 247.94,639.92 246.87,638.73 248.44,638.39" fill="#111" stroke="#111" stroke-width="0.35" stroke-linejoin="round"/>
<polygon points="254.75,637.00 255.56,638.39 257.13,638.73 256.06,639.92 256.22,641.52 254.75,640.88 253.28,641.52 253.44,639.92 252.37,638.73 253.94,638.39" fill="#111" stroke="#111" stroke-width="0.35" stroke-linejoin="round"/>
<polygon points="462.25,600.70 463.06,602.09 464.63,602.43 463.56,603.62 463.72,605.22 462.25,604.58 460.78,605.22 460.94,603.62 459.87,602.43 461.44,602.09" fill="#111" stroke="#111" stroke-width="0.35" stroke-linejoin="round"/>
<polygon points="467.75,600.70 468.56,602.09 470.13,602.43 469.06,603.62 469.22,605.22 467.75,604.58 466.28,605.22 466.44,603.62 465.37,602.43 466.94,602.09" fill="#111" stroke="#111" stroke-width="0.35" stroke-linejoin="round"/>
<polygon points="473.25,600.70 474.06,602.09 475.63,602.43 474.56,603.62 474.72,605.22 473.25,604.58 471.78,605.22 471.94,603.62 470.87,602.43 472.44,602.09" fill="#111" stroke="#111" stroke-width="0.35" stroke-linejoin="round"/>
<rect x="300.75" y="625.75" width="11" height="10.5" fill="#000"/>
<rect x="301.75" y="641.25" width="10.5" height="10.3" fill="#fff" stroke="#999" stroke-width="1"/>
<text transform="translate(316.19,635.28) scale(0.962,1)" font-size="12.38">Control siRNA</text>
<text transform="translate(316.52,650.88) scale(0.989,1)" font-size="12.11">ESM1 siRNA</text>
<text transform="translate(56.48,804.11) rotate(-90) scale(1.061,1)" font-size="11.56">Percent wound closure</text>
<text transform="translate(69.54,784.16) rotate(-90) scale(1.175,1)" font-size="10.40">(baseline = 0 hr)</text>
</svg>
</body></html>
